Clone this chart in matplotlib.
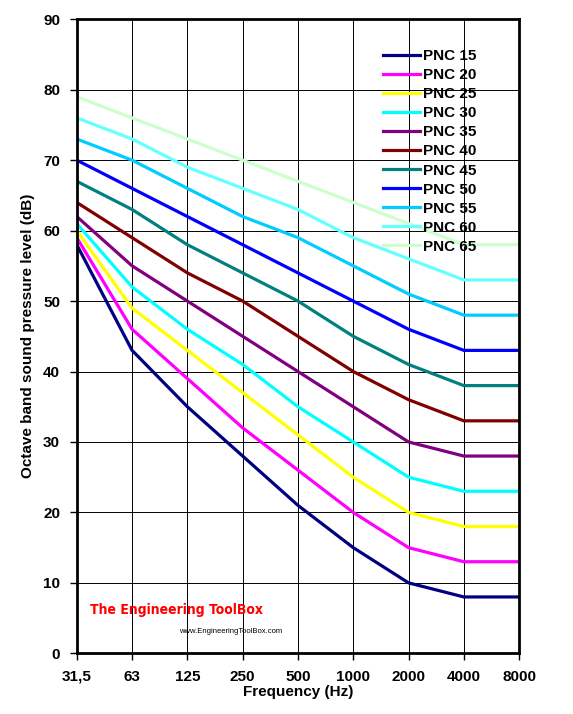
import matplotlib.pyplot as plt
from matplotlib import font_manager

plt.rcParams["font.family"] = ["Liberation Sans", "DejaVu Sans"]

freq_labels = ["31,5", "63", "125", "250", "500", "1000", "2000", "4000", "8000"]

pnc_names = ["PNC 15", "PNC 20", "PNC 25", "PNC 30", "PNC 35", "PNC 40",
             "PNC 45", "PNC 50", "PNC 55", "PNC 60", "PNC 65"]

pnc15 = [58, 43, 35, 28, 21, 15, 10, 8, 8]
pnc20 = [59, 46, 39, 32, 26, 20, 15, 13, 13]
pnc25 = [60, 49, 43, 37, 31, 25, 20, 18, 18]
pnc30 = [61, 52, 46, 41, 35, 30, 25, 23, 23]
pnc35 = [62, 55, 50, 45, 40, 35, 30, 28, 28]
pnc40 = [64, 59, 54, 50, 45, 40, 36, 33, 33]
pnc45 = [67, 63, 58, 54, 50, 45, 41, 38, 38]
pnc50 = [70, 66, 62, 58, 54, 50, 46, 43, 43]
pnc55 = [73, 70, 66, 62, 59, 55, 51, 48, 48]
pnc60 = [76, 73, 69, 66, 63, 59, 56, 53, 53]
pnc65 = [79, 76, 73, 70, 67, 64, 61, 58, 58]

curves = [pnc15, pnc20, pnc25, pnc30, pnc35, pnc40,
          pnc45, pnc50, pnc55, pnc60, pnc65]
colors = ["#000080", "#FF00FF", "#FFFF00", "#00FFFF", "#800080", "#800000",
          "#008080", "#0000FF", "#00CCFF", "#66FFFF", "#CCFFCC"]

fig = plt.figure(figsize=(5.73, 7.14), dpi=100)
ax = fig.add_axes([0.134, 0.085, 0.772, 0.888])

x = list(range(len(freq_labels)))
for name, vals, c in zip(pnc_names, curves, colors):
    ax.plot(x, vals, color=c, lw=2.3, label=name, zorder=3)

ax.set_xlim(0, len(freq_labels) - 1)
ax.set_ylim(0, 90)
ax.set_xticks(x)
ax.set_xticklabels(freq_labels, fontsize=11, fontweight="bold")
ax.set_yticks(range(0, 91, 10))
ax.set_yticklabels([str(v) for v in range(0, 91, 10)], fontsize=11, fontweight="bold")
ax.tick_params(direction="out", length=5, width=1, pad=7)

ax.grid(True, color="black", lw=0.7, zorder=1)
for s in ax.spines.values():
    s.set_linewidth(2)
    s.set_zorder(4)

ax.set_xlabel("Frequency (Hz)", fontsize=11, fontweight="bold", labelpad=1)
ax.set_ylabel("Octave band sound pressure level (dB)", fontsize=11,
              fontweight="bold", labelpad=6)

leg = ax.legend(loc="upper right", bbox_to_anchor=(0.93, 0.972), frameon=False,
                fontsize=11, handlelength=2.4, handletextpad=0.2,
                labelspacing=0.33, borderpad=0.3)
for t in leg.get_texts():
    t.set_fontweight("bold")

# watermark (condensed face if one is available)
names = {f.name for f in font_manager.fontManager.ttflist}
narrow = [n for n in ["Liberation Sans Narrow", "DejaVu Sans Condensed"] if n in names]
if narrow:
    wm_font = dict(family=[narrow[0], "DejaVu Sans"], fontsize=15)
else:
    wm_font = dict(family=["DejaVu Sans"], fontstretch="condensed", fontsize=10)
ax.text(0.03, 0.068, "The Engineering ToolBox", transform=ax.transAxes,
        color="red", fontweight="bold", va="center", **wm_font)
ax.text(0.23, 0.035, "www.EngineeringToolBox.com", transform=ax.transAxes,
        color="black", fontsize=5.5, va="center")

fig.savefig("out.png", dpi=100)
